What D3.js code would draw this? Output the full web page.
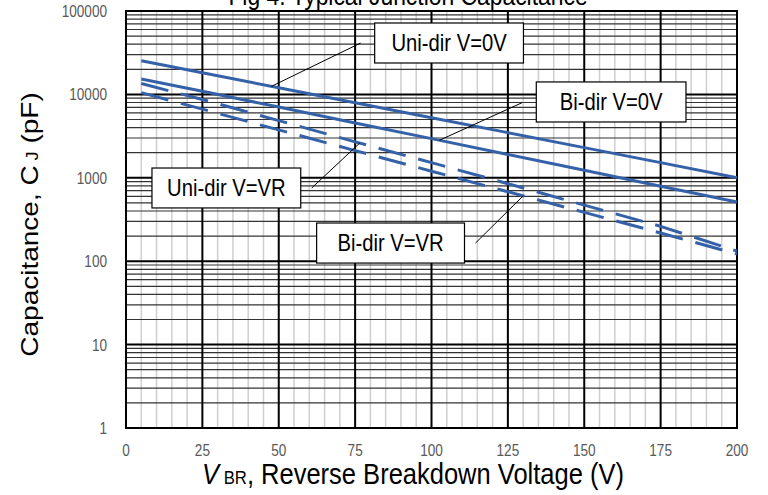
<!DOCTYPE html>
<html>
<head>
<meta charset="utf-8">
<script src="https://cdn.jsdelivr.net/npm/d3@7"></script>
<style>
  body { margin: 0; background: #fff; }
  text { font-family: Arial, "Liberation Sans", sans-serif; }
</style>
</head>
<body>
<div id="viz"></div>
<script>
const width = 768;
const height = 495;
const margins = { left: 126, right: 31, top: 11, bottom: 67 };
const visWidth = width - margins.left - margins.right;
const visHeight = height - margins.top - margins.bottom;
const squeeze = 0.88; // the source chart text looks horizontally squeezed

// breakdown voltage (V) at which curves were read
const voltages = [5, 25, 50, 75, 100, 125, 150, 175, 200];
// junction capacitance (pF)
const uniZero = [25300, 18200, 12000, 7950, 5250, 3480, 2300, 1520, 1000];
const biZero = [15300, 10900, 7050, 4550, 2950, 1900, 1230, 790, 513];
const uniVR = [13500, 8700, 4850, 2700, 1520, 850, 470, 262, 132];
const biVR = [10500, 6650, 3750, 2120, 1200, 680, 385, 218, 122];

const xTicks = [0, 25, 50, 75, 100, 125, 150, 175, 200];
const yTicks = [1, 10, 100, 1000, 10000, 100000];

const series = [
    { name: "Uni-dir V=0V", values: uniZero, dashed: false },
    { name: "Bi-dir V=0V", values: biZero, dashed: false },
    { name: "Uni-dir V=VR", values: uniVR, dashed: true },
    { name: "Bi-dir V=VR", values: biVR, dashed: true },
];

const svg = d3.select('#viz')
    .append("svg")
    .attr('width', width)
    .attr('height', height);

const g = svg.append("g")
    .attr("transform", `translate(${margins.left}, ${margins.top})`);

const xScale = d3.scaleLinear()
    .domain([0, 200])
    .range([0, visWidth]);

const yScale = d3.scaleLog()
    .domain([1, 100000])
    .range([visHeight, 0]);

// helper: squeeze a text horizontally around its anchor point
function squeezed(sel, x, y, k) {
    return sel.attr("transform", `translate(${x}, ${y}) scale(${k || squeeze}, 1)`);
}

// minor vertical grid every 5 V
const minorX = d3.range(5, 200, 5).filter(v => v % 25 !== 0);
g.append("g")
    .selectAll("line")
    .data(minorX)
    .join("line")
    .attr("x1", d => xScale(d)).attr("x2", d => xScale(d))
    .attr("y1", 0).attr("y2", visHeight)
    .attr("stroke", "#cfcfcf")
    .attr("stroke-width", 1.5);

// minor horizontal grid 2..9 in each decade
const minorY = [];
yTicks.slice(0, -1).forEach(dec => {
    for (let k = 2; k <= 9; k++) minorY.push(dec * k);
});
g.append("g")
    .selectAll("line")
    .data(minorY)
    .join("line")
    .attr("x1", 0).attr("x2", visWidth)
    .attr("y1", d => yScale(d)).attr("y2", d => yScale(d))
    .attr("stroke", "#333")
    .attr("stroke-width", 1.2);

// major grid
g.append("g")
    .selectAll("line")
    .data(xTicks)
    .join("line")
    .attr("x1", d => xScale(d)).attr("x2", d => xScale(d))
    .attr("y1", 0).attr("y2", visHeight)
    .attr("stroke", "#000")
    .attr("stroke-width", 2);

g.append("g")
    .selectAll("line")
    .data(yTicks)
    .join("line")
    .attr("x1", 0).attr("x2", visWidth)
    .attr("y1", d => yScale(d)).attr("y2", d => yScale(d))
    .attr("stroke", "#000")
    .attr("stroke-width", 2);

g.append("rect")
    .attr("width", visWidth)
    .attr("height", visHeight)
    .attr("fill", "none")
    .attr("stroke", "#000")
    .attr("stroke-width", 2);

// tick labels
g.append("g")
    .selectAll("text")
    .data(xTicks)
    .join("text")
    .each(function (d) { squeezed(d3.select(this), xScale(d), visHeight + 28, 0.8); })
    .attr("text-anchor", "middle")
    .attr("font-size", 17)
    .attr("fill", "#595959")
    .text(d => d);

g.append("g")
    .selectAll("text")
    .data(yTicks)
    .join("text")
    .each(function (d) { squeezed(d3.select(this), -19, yScale(d), 0.8); })
    .attr("dy", "0.35em")
    .attr("text-anchor", "end")
    .attr("font-size", 17)
    .attr("fill", "#595959")
    .text(d => d);

// curves
const line = d3.line()
    .x((d, i) => xScale(voltages[i]))
    .y(d => yScale(d));

g.append("g")
    .selectAll("path")
    .data(series)
    .join("path")
    .attr("fill", "none")
    .attr("stroke", "#3461a8")
    .attr("stroke-width", 3)
    .attr("stroke-dasharray", d => d.dashed ? "28,13" : null)
    .attr("d", d => line(d.values));

// callouts: box corners and leader end in data units, leader starts on the curve
const callouts = [
    { s: 0, at: 47.6, box: [81.4, 130.1, 71800, 23800], end: [76.8, 41300] },
    { s: 1, at: 102.6, box: [134.3, 183.3, 14100, 4670], end: [129.6, 7940] },
    { s: 2, at: 76.5, box: [8.5, 57.2, 1310, 435], end: [60.8, 755] },
    { s: 3, at: 130, box: [62.4, 110.8, 287, 95], end: [114.4, 165] },
];

callouts.forEach(c => {
    const s = series[c.s];
    const i = d3.bisectLeft(voltages, c.at);
    const t = (c.at - voltages[i - 1]) / (voltages[i] - voltages[i - 1]);
    const lv = Math.log10(s.values[i - 1]) * (1 - t) + Math.log10(s.values[i]) * t;
    g.append("line")
        .attr("x1", xScale(c.at)).attr("y1", yScale(Math.pow(10, lv)))
        .attr("x2", xScale(c.end[0])).attr("y2", yScale(c.end[1]))
        .attr("stroke", "#000")
        .attr("stroke-width", 1);
    const x0 = xScale(c.box[0]), x1 = xScale(c.box[1]);
    const y0 = yScale(c.box[2]), y1 = yScale(c.box[3]);
    g.append("rect")
        .attr("x", x0).attr("y", y0)
        .attr("width", x1 - x0).attr("height", y1 - y0)
        .attr("fill", "#fff")
        .attr("stroke", "#000")
        .attr("stroke-width", 1.2);
    squeezed(g.append("text"), (x0 + x1) / 2, (y0 + y1) / 2)
        .attr("dy", "0.36em")
        .attr("text-anchor", "middle")
        .attr("font-size", 23)
        .attr("fill", "#000")
        .text(s.name);
});

// title (clipped at top like the reference)
squeezed(svg.append("text"), 408, 5)
    .attr("text-anchor", "middle")
    .attr("font-size", 26)
    .attr("fill", "#000")
    .text("Fig 4. Typical Junction Capacitance");

// x title
const xt = squeezed(svg.append("text"), 413, 484)
    .attr("text-anchor", "middle")
    .attr("font-size", 29)
    .attr("fill", "#000");
xt.append("tspan").attr("font-style", "italic").text("V");
xt.append("tspan").attr("font-size", 19).text(" BR");
xt.append("tspan").text(", Reverse Breakdown Voltage (V)");

// y title
const yt = svg.append("text")
    .attr("transform", `translate(38, ${margins.top + visHeight / 2 + 5}) rotate(-90) scale(1, ${squeeze})`)
    .attr("text-anchor", "middle")
    .attr("font-size", 28)
    .attr("fill", "#000");
yt.append("tspan").text("Capacitance, C");
yt.append("tspan").attr("font-size", 18).text(" J");
yt.append("tspan").text(" (pF)");
</script>
</body>
</html>
